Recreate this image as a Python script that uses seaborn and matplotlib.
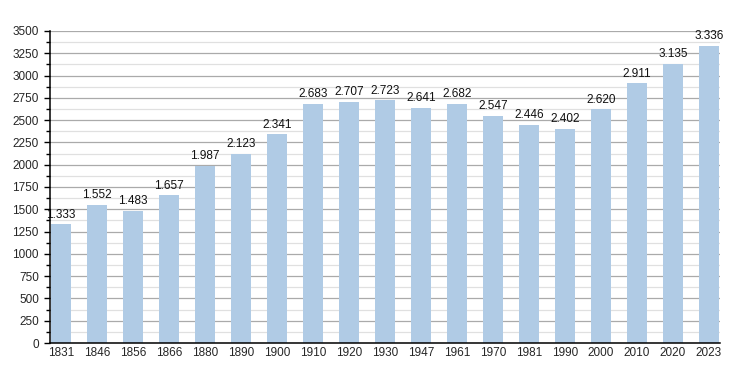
import matplotlib
matplotlib.use("Agg")
import matplotlib.pyplot as plt
import seaborn as sns
import pandas as pd
from matplotlib.ticker import MultipleLocator

years = ["1831", "1846", "1856", "1866", "1880", "1890", "1900", "1910", "1920", "1930",
         "1947", "1961", "1970", "1981", "1990", "2000", "2010", "2020", "2023"]
population = [1333, 1552, 1483, 1657, 1987, 2123, 2341, 2683, 2707, 2723,
              2641, 2682, 2547, 2446, 2402, 2620, 2911, 3135, 3336]

df = pd.DataFrame({"year": years, "pop": population})

sns.set_style("white")
plt.rcParams["font.family"] = ["Liberation Sans", "DejaVu Sans"]

fig = plt.figure(figsize=(7.5, 3.73), dpi=100)
ax = fig.add_axes([0.0667, 0.0804, 0.893, 0.8366])

sns.barplot(data=df, x="year", y="pop", color="#b0cbe5", saturation=1, width=0.56,
            linewidth=0, edgecolor="none", ax=ax, zorder=3)

ax.set_ylim(0, 3500)
ax.set_xlim(-0.3, 18.3)
ax.yaxis.set_major_locator(MultipleLocator(250))
ax.yaxis.set_minor_locator(MultipleLocator(125))
ax.grid(axis="y", which="major", color="#aaaaaa", linewidth=0.9, zorder=0)
ax.grid(axis="y", which="minor", color="#e0e0e0", linewidth=0.9, zorder=0)
ax.set_axisbelow(True)

for s in ["top", "right"]:
    ax.spines[s].set_visible(False)
for s in ["left", "bottom"]:
    ax.spines[s].set_color("black")
    ax.spines[s].set_linewidth(1.1)
    ax.spines[s].set_zorder(5)

ax.tick_params(axis="y", which="major", length=4, width=1, color="black", labelsize=8.5, pad=4, left=True)
ax.tick_params(axis="y", which="minor", length=3, width=1, color="black", left=True)
ax.tick_params(axis="x", length=0, labelsize=8.5, pad=3)
ax.set_xlabel("")
ax.set_ylabel("")

for i, v in enumerate(population):
    ax.text(i, v + 40, f"{v:,}".replace(",", "."), ha="center", va="bottom", fontsize=8.5, color="#111111")

fig.savefig("out.png", dpi=100)
